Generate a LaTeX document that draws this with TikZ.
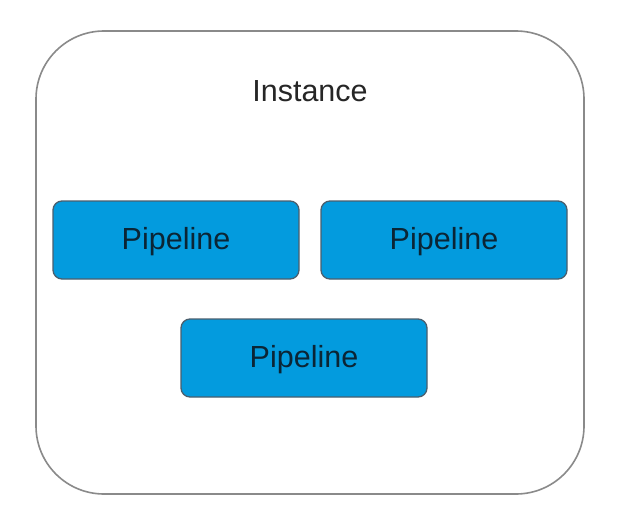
\documentclass[tikz,border=0pt]{standalone}
\usepackage{fontspec}
\setmainfont{Liberation Sans}
\definecolor{pipefill}{HTML}{039BDE}
\definecolor{pipeedge}{HTML}{4A5F6E}
\definecolor{pipetext}{HTML}{0B2535}
\definecolor{outeredge}{HTML}{8A8A8A}
\newcommand{\pipelabel}{\raisebox{-2pt}[\height][\depth]{Pipeline}}
\tikzset{
  pipebox/.style={draw=pipeedge, line width=1.3pt, fill=pipefill, rounded corners=9pt,
    minimum width=246pt, minimum height=78pt, inner sep=0pt,
    font=\fontsize{30.5}{34}\selectfont, text=pipetext},
  outerbox/.style={draw=outeredge, line width=1.6pt, rounded corners=68pt, fill=white},
  titletext/.style={font=\fontsize{30.5}{34}\selectfont, text=black!85}
}
\begin{document}
\begin{tikzpicture}[x=1pt,y=-1pt]
\useasboundingbox (0,0) rectangle (620,524);
\fill[white] (0,0) rectangle (620,524);
\draw[outerbox] (36,31) rectangle (584,494);
\node[titletext] (title) at (310,91) {Instance};
\node[pipebox] (p1) at (176,240) {\pipelabel};
\node[pipebox] (p2) at (444,240) {\pipelabel};
\node[pipebox] (p3) at (304,358) {\pipelabel};
\end{tikzpicture}
\end{document}
